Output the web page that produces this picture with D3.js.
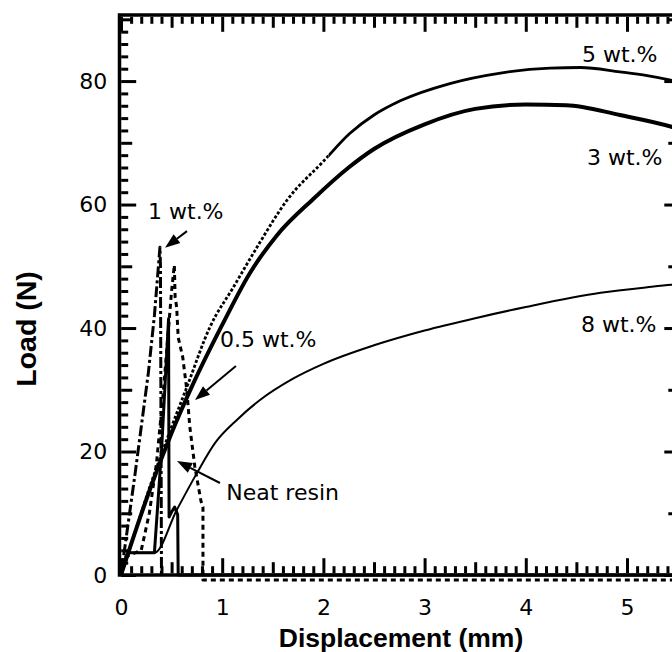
<!DOCTYPE html>
<html>
<head>
<meta charset="utf-8">
<script src="https://cdn.jsdelivr.net/npm/d3@7"></script>
<style>
body { margin: 0; background: #fff; }
svg { display: block; }
.tick text { font-family: "DejaVu Sans", sans-serif; font-size: 22px; fill: #000; }
.note { font-family: "DejaVu Sans", sans-serif; font-size: 22px; fill: #000; }
.title { font-family: "Liberation Sans", Arial, sans-serif; font-weight: bold; fill: #000; }
</style>
</head>
<body>
<svg id="chart" width="672" height="652"></svg>
<script>
// load (N) vs displacement (mm)
var neatResin = [[0,0],[0.07,3.6],[0.33,3.6],[0.40,20],[0.47,41.5],[0.475,9.4],[0.50,10.2],[0.53,11],[0.56,9.8],[0.565,0],[5.52,0]];
var wt05 = [[0,0],[0.05,3],[0.2,4],[0.28,10],[0.35,18],[0.42,30],[0.47,40],[0.50,46],[0.527,50.2],[0.535,45],[0.55,43.4],[0.565,38.5],[0.61,35.3],[0.65,30],[0.68,24],[0.73,17.5],[0.79,12],[0.81,11],[0.81,-0.8],[5.52,-0.8]];
var wt1 = [[0,0],[0.14,16.5],[0.27,32.7],[0.33,42],[0.385,53.1],[0.39,50],[0.40,0]];
var wt3 = [[0,0],[0.1,5],[0.3,14.5],[0.5,23],[0.7,30.5],[1.0,40.5],[1.27,48.8],[1.54,55],[1.9,60.9],[2.25,66],[2.5,69],[3.0,73],[3.5,75.5],[4.0,76.2],[4.4,76.1],[4.93,74.5],[5.44,72.6],[5.52,72.2]];
var wt5 = [[0,0],[0.1,5],[0.3,15],[0.5,24],[0.65,30.4],[0.88,40.2],[1.11,46.6],[1.37,53.8],[1.64,60.7],[2.0,67],[2.26,71.5],[2.5,74.5],[2.76,76.8],[3.25,79.6],[3.75,81.3],[4.24,82.1],[4.54,82.2],[4.93,81.5],[5.2,80.9],[5.42,80.2],[5.52,79.8]];
var wt8 = [[0,0],[0.07,3.6],[0.33,3.6],[0.55,10.5],[0.75,16.5],[0.93,21.4],[1.15,25.2],[1.37,28.3],[1.7,31.8],[2.0,34.2],[2.5,37.2],[3.0,39.6],[3.5,41.6],[4.0,43.4],[4.74,45.7],[5.2,46.6],[5.44,47],[5.52,47.1]];

var xTicks = [0,1,2,3,4,5];
var yTicks = [0,20,40,60,80];

var labels = [
  {text:"5 wt.%", x:4.555, y:83.1},
  {text:"3 wt.%", x:4.605, y:66.4},
  {text:"8 wt.%", x:4.545, y:39.35},
  {text:"1 wt.%", x:0.267, y:57.65},
  {text:"0.5 wt.%", x:0.978, y:36.9},
  {text:"Neat resin", x:1.04, y:12.15}
];
var arrows = [
  {from:[0.652,55.7], to:[0.435,53.0]},
  {from:[1.136,33.85], to:[0.731,28.34]},
  {from:[0.978,14.9], to:[0.553,18.46]}
];

var svg = d3.select("#chart");

var x = d3.scaleLinear().domain([0, 5.52]).range([121, 679.6]);
var y = d3.scaleLinear().domain([0, 90.7]).range([575, 15]);

var xMinor = d3.range(0, 56).filter(function(i){ return i % 5 != 0; }).map(function(i){ return i/10; });
var xMid = [0.5,1.5,2.5,3.5,4.5,5.5];
var yMinor = d3.range(0, 46).filter(function(i){ return i % 5 != 0; }).map(function(i){ return i*2; });
var yMid = [10,30,50,70,90];

function addAxis(axis, tx, ty, values, len, labelled, pad) {
  axis.tickValues(values).tickSizeInner(-len).tickSizeOuter(0).tickPadding(pad || 0)
    .tickFormat(labelled ? d3.format("d") : "");
  var g = svg.append("g").attr("transform", "translate(" + tx + "," + ty + ")").call(axis);
  g.select(".domain").remove();
  g.selectAll(".tick line").attr("stroke", "#000").attr("stroke-width", 3);
  return g;
}

// bottom + top
addAxis(d3.axisBottom(x), 0, 573.2, xMinor, 7);
addAxis(d3.axisBottom(x), 0, 573.2, xMid, 11);
addAxis(d3.axisBottom(x), 0, 573.2, xTicks, 15, true, 26);
addAxis(d3.axisTop(x), 0, 16.8, xMinor, 7);
addAxis(d3.axisTop(x), 0, 16.8, xMid, 11);
addAxis(d3.axisTop(x), 0, 16.8, xTicks, 15);
// left + right
addAxis(d3.axisLeft(y), 121.2, 0, yMinor, 7);
addAxis(d3.axisLeft(y), 121.2, 0, yMid, 11);
addAxis(d3.axisLeft(y), 121.2, 0, yTicks, 15, true, 14);
addAxis(d3.axisRight(y), 679.3, 0, yMinor, 7);
addAxis(d3.axisRight(y), 679.3, 0, yMid, 11);
addAxis(d3.axisRight(y), 679.3, 0, yTicks, 15);

svg.append("rect")
  .attr("x", 119.5).attr("y", 15)
  .attr("width", 681 - 119.5).attr("height", 575 - 15)
  .attr("fill", "none").attr("stroke", "#000").attr("stroke-width", 3.5);

// clips so the 5 wt.% curve can be dotted on its steep part only
var split = x(2.05);
var defs = svg.append("defs");
defs.append("clipPath").attr("id", "clipLeft").append("rect")
  .attr("x", 0).attr("y", 0).attr("width", split).attr("height", 652);
defs.append("clipPath").attr("id", "clipRight").append("rect")
  .attr("x", split).attr("y", 0).attr("width", 672 - split).attr("height", 652);

var lineSharp = d3.line().x(function(d){ return x(d[0]); }).y(function(d){ return y(d[1]); });
var lineSmooth = d3.line().curve(d3.curveMonotoneX).x(function(d){ return x(d[0]); }).y(function(d){ return y(d[1]); });

function draw(data, gen, width, dash, clip) {
  svg.append("path").datum(data)
    .attr("d", gen)
    .attr("fill", "none")
    .attr("stroke", "#000")
    .attr("stroke-width", width)
    .attr("stroke-linejoin", "round")
    .attr("stroke-dasharray", dash || null)
    .attr("clip-path", clip ? "url(#" + clip + ")" : null);
}

draw(wt8, lineSmooth, 2);
draw(wt3, lineSmooth, 4);
draw(wt5, lineSmooth, 2.8, "3,2", "clipLeft");
draw(wt5, lineSmooth, 2.8, null, "clipRight");
draw(neatResin, lineSharp, 3);
draw(wt05, lineSharp, 3, "5,4");
draw(wt1, lineSharp, 3, "11,3,3,3");

// labels and arrows
svg.selectAll("text.note").data(labels).enter().append("text")
  .attr("class", "note")
  .attr("x", function(d){ return x(d.x); })
  .attr("y", function(d){ return y(d.y); })
  .text(function(d){ return d.text; });

arrows.forEach(function(a) {
  var x0 = x(a.from[0]), y0 = y(a.from[1]), x1 = x(a.to[0]), y1 = y(a.to[1]);
  var dx = x1 - x0, dy = y1 - y0, L = Math.sqrt(dx*dx + dy*dy);
  var ux = dx / L, uy = dy / L, head = 15, half = 5.5;
  var bx = x1 - ux*head, by = y1 - uy*head;
  svg.append("line").attr("x1", x0).attr("y1", y0).attr("x2", bx).attr("y2", by)
    .attr("stroke", "#000").attr("stroke-width", 2);
  svg.append("path")
    .attr("d", "M" + x1 + "," + y1 + "L" + (bx - uy*half) + "," + (by + ux*half) + "L" + (bx + uy*half) + "," + (by - ux*half) + "Z")
    .attr("fill", "#000");
});

// axis titles
svg.append("text").attr("class", "title")
  .attr("x", 401).attr("y", 647)
  .attr("text-anchor", "middle").attr("font-size", 26.5)
  .text("Displacement (mm)");
svg.append("text").attr("class", "title")
  .attr("transform", "translate(36,329) rotate(-90)")
  .attr("text-anchor", "middle").attr("font-size", 28.5)
  .text("Load (N)");
</script>
</body>
</html>
